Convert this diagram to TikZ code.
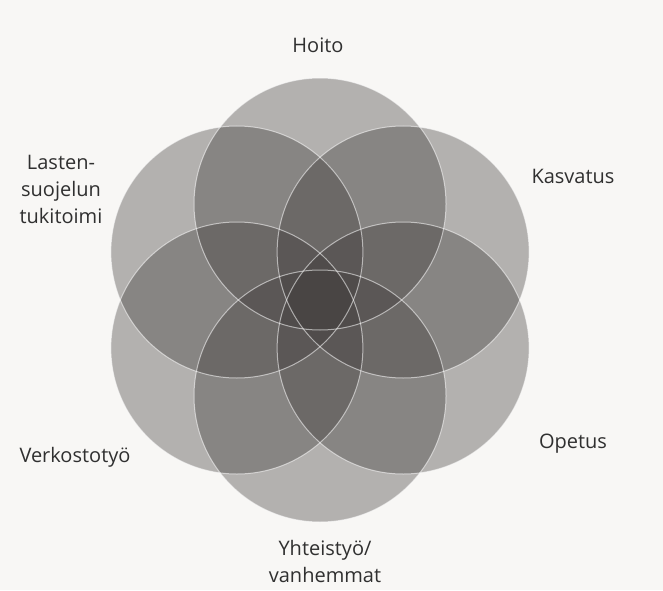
\documentclass[tikz,border=0pt]{standalone}
\usepackage{fontspec}
\setmainfont{Open Sans}
\definecolor{paper}{RGB}{248,247,245}
\definecolor{petal}{RGB}{62,58,57}
\definecolor{ink}{RGB}{48,48,48}
\begin{document}
\begin{tikzpicture}[x=1pt,y=1pt,
  label text/.style={text=ink, font=\fontsize{20}{27}\selectfont, align=center, inner sep=0pt}]
\pgfmathsetmacro{\R}{126}
\pgfmathsetmacro{\D}{96}
\coordinate (O) at (320,290);
\fill[paper] (0,0) rectangle (663,590);
\foreach \a/\n in {90/hoito, 30/kasvatus, -30/opetus, -90/yhteistyo, -150/verkosto, 150/lasten}
  \path (O) ++(\a:\D) coordinate (c-\n);
\foreach \n in {hoito, kasvatus, opetus, yhteistyo, verkosto, lasten}
  \fill[petal, fill opacity=0.37] (c-\n) circle (\R);
\foreach \n in {hoito, kasvatus, opetus, yhteistyo, verkosto, lasten}
  \draw[white, draw opacity=0.55, line width=1] (c-\n) circle (\R);
\node[label text] (hoito) at (318,545) {Hoito};
\node[label text] (kasvatus) at (573,414) {Kasvatus};
\node[label text] (opetus) at (573,146) {Opetus};
\node[label text] (yhteistyo) at (325,29) {Yhteistyö/\\vanhemmat};
\node[label text] (verkosto) at (75,133) {Verkostotyö};
\node[label text] (lasten) at (61,401) {Lasten-\\suojelun\\tukitoimi};
\end{tikzpicture}
\end{document}
